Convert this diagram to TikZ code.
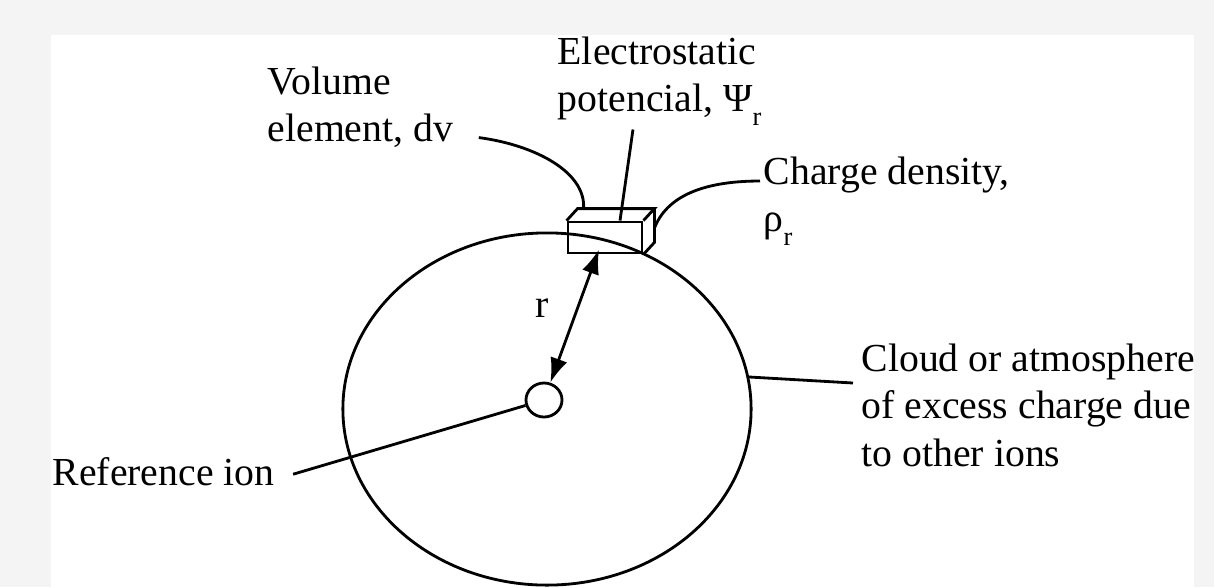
\documentclass[tikz,border=0pt]{standalone}
\usepackage{fontspec}
\setmainfont{Liberation Serif}
\usetikzlibrary{arrows.meta,calc,shapes.geometric}
\definecolor{pagebg}{HTML}{F4F4F4}
\newcommand{\lblfont}{\fontsize{11.3}{13.5}\selectfont}
\newcommand{\sbr}{\raisebox{-4pt}{\fontsize{7.5}{8}\selectfont r}}
\tikzset{
  lbl/.style={inner sep=0pt, align=left, font=\lblfont},
  lead/.style={line width=0.8pt},
  dbl/.style={{Latex[length=7pt,width=5pt]}-{Latex[length=7pt,width=5pt]}, line width=0.8pt},
}

\begin{document}
\begin{tikzpicture}[x=0.01cm, y=-0.01cm]
  \fill[pagebg] (0,0) rectangle (1214,587);
  \fill[white] (51,35) rectangle (1194,587);
  \useasboundingbox (0,0) rectangle (1214,587);
  % cloud and reference ion
  \node[ellipse, draw, lead, minimum width=4.08cm, minimum height=3.52cm, inner sep=0pt] (cloud) at (547,409) {};
  \node[ellipse, draw, lead, minimum width=3.6mm, minimum height=3.4mm, inner sep=0pt] (ion) at (544,400) {};
  % volume element box
  \node[draw, lead, minimum width=7.4mm, minimum height=3.1mm, inner sep=0pt] (dv) at (605,237.5) {};
  \coordinate (bnw) at ($(dv.north west)+(11,-12)$);
  \coordinate (bne) at ($(dv.north east)+(11,-12)$);
  \coordinate (bse) at ($(dv.south east)+(11,-12)$);
  \coordinate (dvin) at ($(dv.south)+(-6,-5)$);
  \draw[lead] (dv.north west) -- (bnw) -- (bne) -- (dv.north east) (bne) -- (bse) -- (dv.south east);
  % labels
  \node[lbl, anchor=north west] (vol) at (267,66) {Volume\\element, dv};
  \node[lbl, anchor=north west] (elec) at (557,36) {Electrostatic\\potencial, Ψ\sbr};
  \node[lbl, anchor=north west] (chg) at (763,156) {Charge density,\\ρ\sbr};
  \node[lbl, anchor=north west] (cloudlbl) at (861,343) {Cloud or atmosphere\\of excess charge due\\to other ions};
  \node[lbl, anchor=base west] (ref) at (52,485) {Reference ion};
  \node[lbl, anchor=base] (rlbl) at (542,317) {r};
  % leaders
  \draw[lead] ($(vol.south east)+(25,-11)$) .. controls (535,145) and (586,172) .. ($(bnw)+(6,0)$);
  \draw[lead] ($(elec.south west)+(76,3)$) -- ($(dv.north)+(15,0)$);
  \draw[lead] ($(bne)!0.58!(bse)$) .. controls (666,198) and (700,181) .. ($(chg.north west)+(-3,25)$);
  \draw[lead] ($(ref.east)+(18,3)$) -- (ion);
  \draw[lead] (cloud.9) -- ($(cloudlbl.north west)+(-8,40)$);
  \draw[dbl] (ion) -- (dvin);
\end{tikzpicture}
\end{document}
